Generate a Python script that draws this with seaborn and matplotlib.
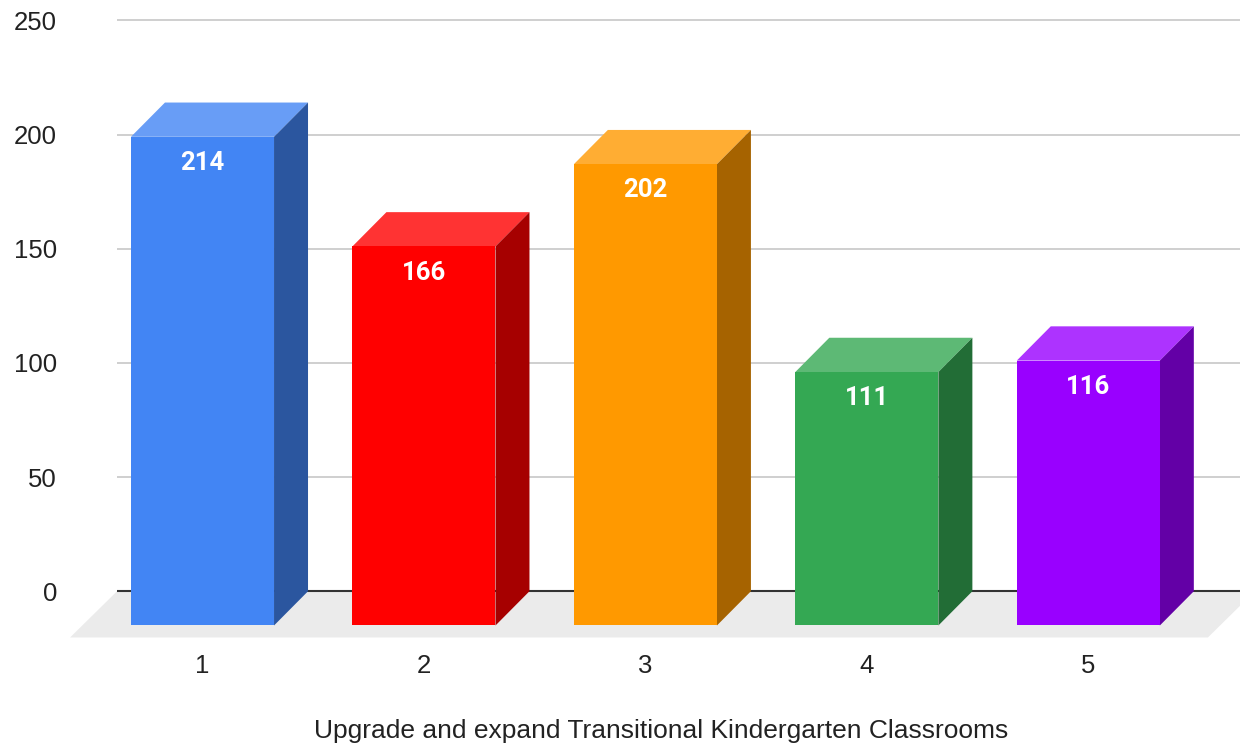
import numpy as np
import pandas as pd
import seaborn as sns
import matplotlib.pyplot as plt
from matplotlib.colors import to_rgb
from matplotlib.patches import Polygon

categories = ['1', '2', '3', '4', '5']
values = [214, 166, 202, 111, 116]
bar_colors = ['#4285f4', '#ff0000', '#ff9900', '#34a853', '#9900ff']
y_ticks = [0, 50, 100, 150, 200, 250]
x_title = 'Upgrade and expand Transitional Kindergarten Classrooms'

df = pd.DataFrame({'item': categories, 'count': values})

# fake 3d look: how far the back face sits from the front face
depth_x = 0.1535
depth_y = 15
# grey floor under the bars
floor_x0, floor_x1, floor_front, floor_dx = -0.598, 4.54, -5.25, 0.212
grid_x0 = -0.386

sns.set_style('white')
plt.rcParams['font.family'] = ['Liberation Sans', 'DejaVu Sans']

fig = plt.figure(figsize=(12.4, 7.43), dpi=100)
ax = fig.add_axes([60 / 1240, 98 / 743, 1180 / 1240, 645 / 743])

sns.barplot(data=df, x='item', y='count', hue='item', palette=bar_colors,
            legend=False, width=0.646, saturation=1, linewidth=0,
            zorder=3, ax=ax)

bars = sorted(list(ax.patches), key=lambda p: p.get_x())
for bar, c in zip(bars, bar_colors):
    x0, w, h = bar.get_x(), bar.get_width(), bar.get_height()
    rgb = np.array(to_rgb(c))
    top = rgb + (1 - rgb) * 0.2
    side = rgb * 0.65
    ax.add_patch(Polygon([(x0, h), (x0 + w, h), (x0 + w + depth_x, h + depth_y),
                          (x0 + depth_x, h + depth_y)],
                         closed=True, fc=top, ec='none', zorder=2.5))
    ax.add_patch(Polygon([(x0 + w, 0), (x0 + w + depth_x, depth_y),
                          (x0 + w + depth_x, h + depth_y), (x0 + w, h)],
                         closed=True, fc=side, ec='none', zorder=2.5))
    ax.text(x0 + w / 2, h - 11.5, f'{h:.0f}', ha='center', va='center',
            color='white', fontsize=18.5, fontweight='bold',
            family=['Roboto', 'DejaVu Sans'], zorder=4)

# floor
ax.add_patch(Polygon([(floor_x0, floor_front), (floor_x1, floor_front),
                      (floor_x1 + floor_dx, depth_y), (floor_x0 + floor_dx, depth_y)],
                     closed=True, fc='#ebebeb', ec='none', zorder=0.5))

xmax = 4.685
ax.hlines([depth_y + t for t in y_ticks[1:]], grid_x0, xmax, color='#cccccc',
          lw=1.3, zorder=1)
ax.hlines(depth_y, grid_x0, xmax, color='#333333', lw=1.5, zorder=1.5)

ax.set_xlim(-0.6435, xmax)
ax.set_ylim(-8.54, 273.9)
ax.set_yticks([depth_y + t for t in y_ticks], labels=[str(t) for t in y_ticks])
ax.tick_params(axis='y', length=0, pad=2.2, labelsize=18.5, labelcolor='#222222')
ax.tick_params(axis='x', length=0, pad=6.5, labelsize=18.5, labelcolor='#222222')
ax.set_ylabel('')
ax.set_xlabel(x_title, fontsize=19, color='#222222', va='center')
ax.xaxis.set_label_coords(0.5097, -0.133)
sns.despine(ax=ax, left=True, bottom=True)

fig.savefig('out.png', dpi=100)
